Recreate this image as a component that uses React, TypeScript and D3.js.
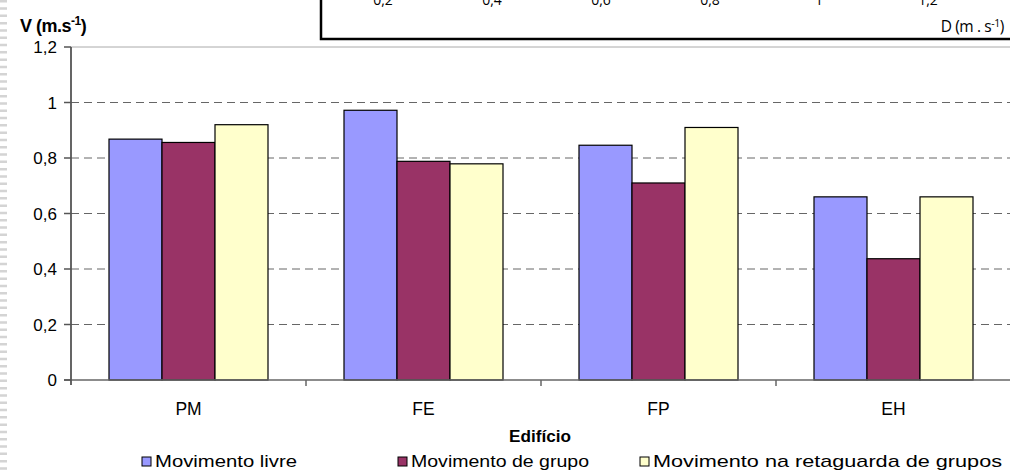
import React from "react";
import * as d3 from "d3";

const categories = ["PM", "FE", "FP", "EH"];
const seriesNames = ["Movimento livre", "Movimento de grupo", "Movimento na retaguarda de grupos"];
const livre = [0.868, 0.972, 0.846, 0.66];
const grupo = [0.856, 0.788, 0.71, 0.437];
const retaguarda = [0.92, 0.779, 0.91, 0.66];
const yTicks = [0, 0.2, 0.4, 0.6, 0.8, 1, 1.2];
const topTicks = [0.2, 0.4, 0.6, 0.8, 1, 1.2];
const colors = ["#9999FF", "#993366", "#FFFFCC"];

const fmt = (v: number) => String(+v.toFixed(1)).replace(".", ",");

export default function App() {
  const W = 1010, H = 473;
  const x0 = d3.scaleBand<string>().domain(categories).range([71, 1011]);
  const x1 = d3.scaleBand<string>().domain(seriesNames).range([38, 197]);
  const y = d3.scaleLinear().domain([0, 1.2]).range([380, 47]);
  const xTop = d3.scaleLinear().domain([0.2, 1.2]).range([383, 928]);
  const data = [livre, grupo, retaguarda];
  const font = "'Liberation Sans', Arial, sans-serif";
  const legendX = [142, 398, 640];
  const legendW = [142, 178, 349];

  return (
    <svg width={W} height={H} style={{ position: "absolute", left: 0, top: 0, background: "#fff" }} fontFamily={font}>
      <rect x={0} y={0} width={W} height={H} fill="#fff" />
      {/* left dashed strip */}
      <line x1={3.5} x2={3.5} y1={0} y2={H} stroke="#d4d4d4" strokeWidth={7} strokeDasharray="2.5,4.8" />
      {/* gridlines */}
      {yTicks.filter((t) => t > 0).map((t) => (
        <line key={t} x1={71} x2={1010} y1={y(t)} y2={y(t)} stroke={t === 1.2 ? "#aaa" : "#666"}
          strokeWidth={1} strokeDasharray={t === 1.2 ? undefined : "8,5"} />
      ))}
      {/* bars */}
      {categories.map((c, i) => (
        <g key={c} transform={`translate(${x0(c)},0)`}>
          {seriesNames.map((s, j) => (
            <rect key={s} x={x1(s)!} y={y(data[j][i])} width={x1.bandwidth()} height={y(0) - y(data[j][i])}
              fill={colors[j]} stroke="#000" strokeWidth={1.2} />
          ))}
        </g>
      ))}
      {/* x axis */}
      <line x1={64} x2={1010} y1={380} y2={380} stroke="#666" strokeWidth={1.5} />
      {categories.slice(1).map((c) => (
        <line key={c} x1={x0(c)!} x2={x0(c)!} y1={380} y2={386} stroke="#666" strokeWidth={1.5} />
      ))}
      {/* y axis */}
      <line x1={71} x2={71} y1={47} y2={385} stroke="#555" strokeWidth={1.8} />
      {yTicks.map((t) => (
        <g key={t}>
          <line x1={64} x2={71} y1={y(t)} y2={y(t)} stroke="#555" strokeWidth={1.5} />
          <text x={57} y={y(t) + 6} textAnchor="end" fontSize={17}>{fmt(t)}</text>
        </g>
      ))}
      {/* category labels */}
      {categories.map((c) => (
        <text key={c} x={x0(c)! + x0.bandwidth() / 2} y={415} textAnchor="middle" fontSize={17.5}>{c}</text>
      ))}
      <text x={509} y={442} fontSize={17} fontWeight="bold" textLength={62} lengthAdjust="spacingAndGlyphs">Edifício</text>
      {/* y label */}
      <text x={20} y={32} fontSize={18} fontWeight="bold" letterSpacing={-0.5}>
        V (m.s<tspan dy={-7} fontSize={12}>-1</tspan><tspan dy={7}>)</tspan>
      </text>
      {/* legend */}
      {seriesNames.map((s, j) => (
        <g key={s}>
          <rect x={legendX[j]} y={457} width={9} height={9} fill={colors[j]} stroke="#000" strokeWidth={1} />
          <text x={legendX[j] + 13} y={467} fontSize={17} textLength={legendW[j]} lengthAdjust="spacingAndGlyphs">{s}</text>
        </g>
      ))}
      {/* overlapping box from another chart */}
      <rect x={321} y={-10} width={700} height={49} fill="#fff" stroke="#000" strokeWidth={2.5} />
      {topTicks.map((t) => (
        <text key={t} x={xTop(t)} y={5} textAnchor="middle" fontSize={14} fontFamily="'Open Sans', sans-serif">{fmt(t)}</text>
      ))}
      <text x={1004} y={32} textAnchor="end" fontSize={15.5} fontFamily="'Open Sans', sans-serif" letterSpacing={-0.4}>
        D (m . s<tspan dy={-5} fontSize={10.5}>-1</tspan><tspan dy={5}>)</tspan>
      </text>
    </svg>
  );
}
